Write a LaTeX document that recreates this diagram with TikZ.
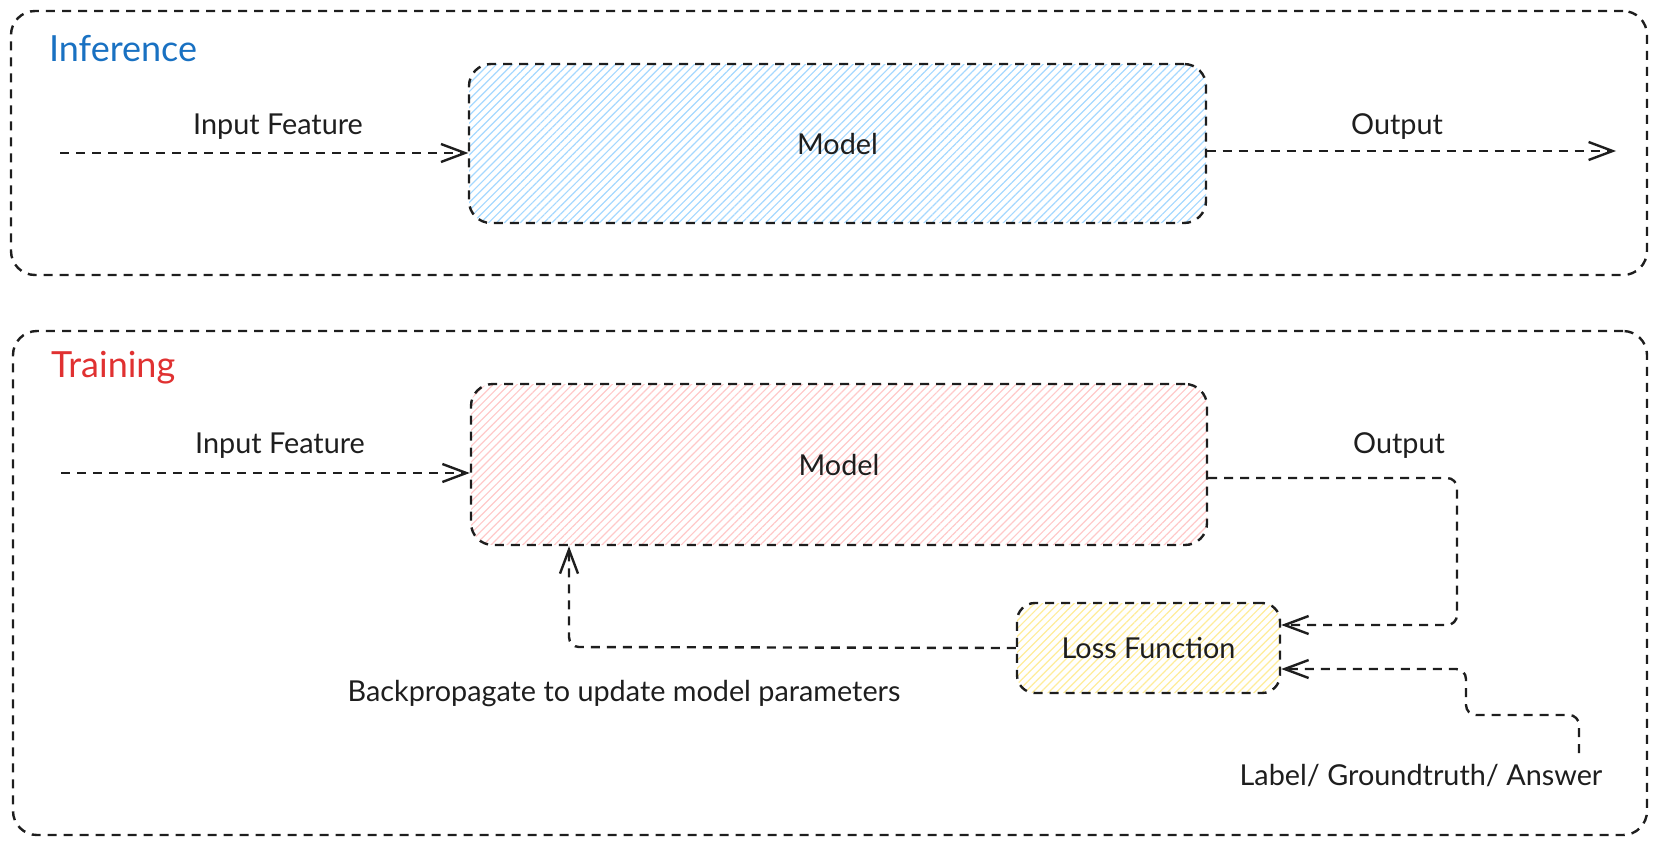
\documentclass[tikz,border=0pt]{standalone}
\usepackage{fontspec}
\setmainfont{Lato}
\usetikzlibrary{arrows.meta,patterns.meta}
\definecolor{ink}{HTML}{1E1E1E}
\definecolor{infblue}{HTML}{1971C2}
\definecolor{trred}{HTML}{E03131}
\definecolor{hatchblue}{HTML}{A5D8FF}
\definecolor{hatchred}{HTML}{FFC9C9}
\definecolor{hatchyellow}{HTML}{FFEC99}
\tikzset{
  sketch/.style={draw=ink, line width=1.2pt, dash pattern=on 4.5pt off 3.5pt},
  frame/.style={sketch, rounded corners=12pt, inner sep=0pt},
  block/.style={sketch, rounded corners=11pt, inner sep=0pt, text=ink, font=\fontsize{14.4}{17}\selectfont},
  hatched/.style={pattern={Lines[angle=45,distance=2.8pt,line width=0.6pt]}, pattern color=#1},
  flow/.style={sketch, rounded corners=5pt, -{Straight Barb[length=12pt,width=9pt,line width=1.2pt]}},
  lbl/.style={text=ink, font=\fontsize{14.4}{17}\selectfont},
  title/.style={anchor=west, font=\fontsize{18}{21}\selectfont}
}
\begin{document}
\begin{tikzpicture}[x=0.5pt,y=-0.5pt]
\useasboundingbox (0,0) rectangle (1658,846);

% inference
\node (infframe) at (829,143) [frame, minimum width=818pt, minimum height=132pt] {};
\node (inftitle) at (42,49) [title, text=infblue] {Inference};
\node (infmodel) at (837.5,143.5) [block, hatched=hatchblue, minimum width=368.5pt, minimum height=79.5pt] {Model};
\node (infin) at (278,127) [lbl] {Input Feature};
\node (infout) at (1397,127) [lbl] {Output};
\coordinate (infsrc) at (60,153);
\coordinate (infdst) at (1616,151);
\draw[flow] (infsrc) -- (infsrc -| infmodel.west);
\draw[flow] (infmodel.east |- infdst) -- (infdst);

% training
\node (trframe) at (830,583) [frame, minimum width=817pt, minimum height=252pt] {};
\node (trtitle) at (44,368) [title, text=trred] {Training};
\node (trmodel) at (839,464.5) [block, hatched=hatchred, minimum width=368pt, minimum height=80.5pt] {Model};
\node (loss) at (1148.5,648) [block, rounded corners=9pt, hatched=hatchyellow, minimum width=131.5pt, minimum height=45pt] {Loss Function};
\node (trin) at (280,446) [lbl] {Input Feature};
\node (trout) at (1399,446) [lbl] {Output};
\node (backprop) at (624,694) [lbl] {Backpropagate to update model parameters};
\node (truth) at (1421,776) [lbl] {Label/ Groundtruth/ Answer};
\coordinate (trsrc) at (61,473);
\coordinate (outturn) at (1457,478);
\coordinate (lossin) at ([yshift=11.5pt]loss.east);
\coordinate (lossgt) at ([yshift=-10.5pt]loss.east);
\coordinate (gtsrc) at (1579,753);
\coordinate (gtstep) at (1466,715);
\coordinate (bpturn) at (569,647);
\draw[flow] (trsrc) -- (trsrc -| trmodel.west);
\draw[flow] (trmodel.east |- outturn) -- (outturn) |- (lossin);
\draw[flow] (gtsrc) |- (gtstep) |- (lossgt);
\draw[flow] (loss.west) -- (bpturn) -- (bpturn |- trmodel.south);

\end{tikzpicture}
\end{document}
